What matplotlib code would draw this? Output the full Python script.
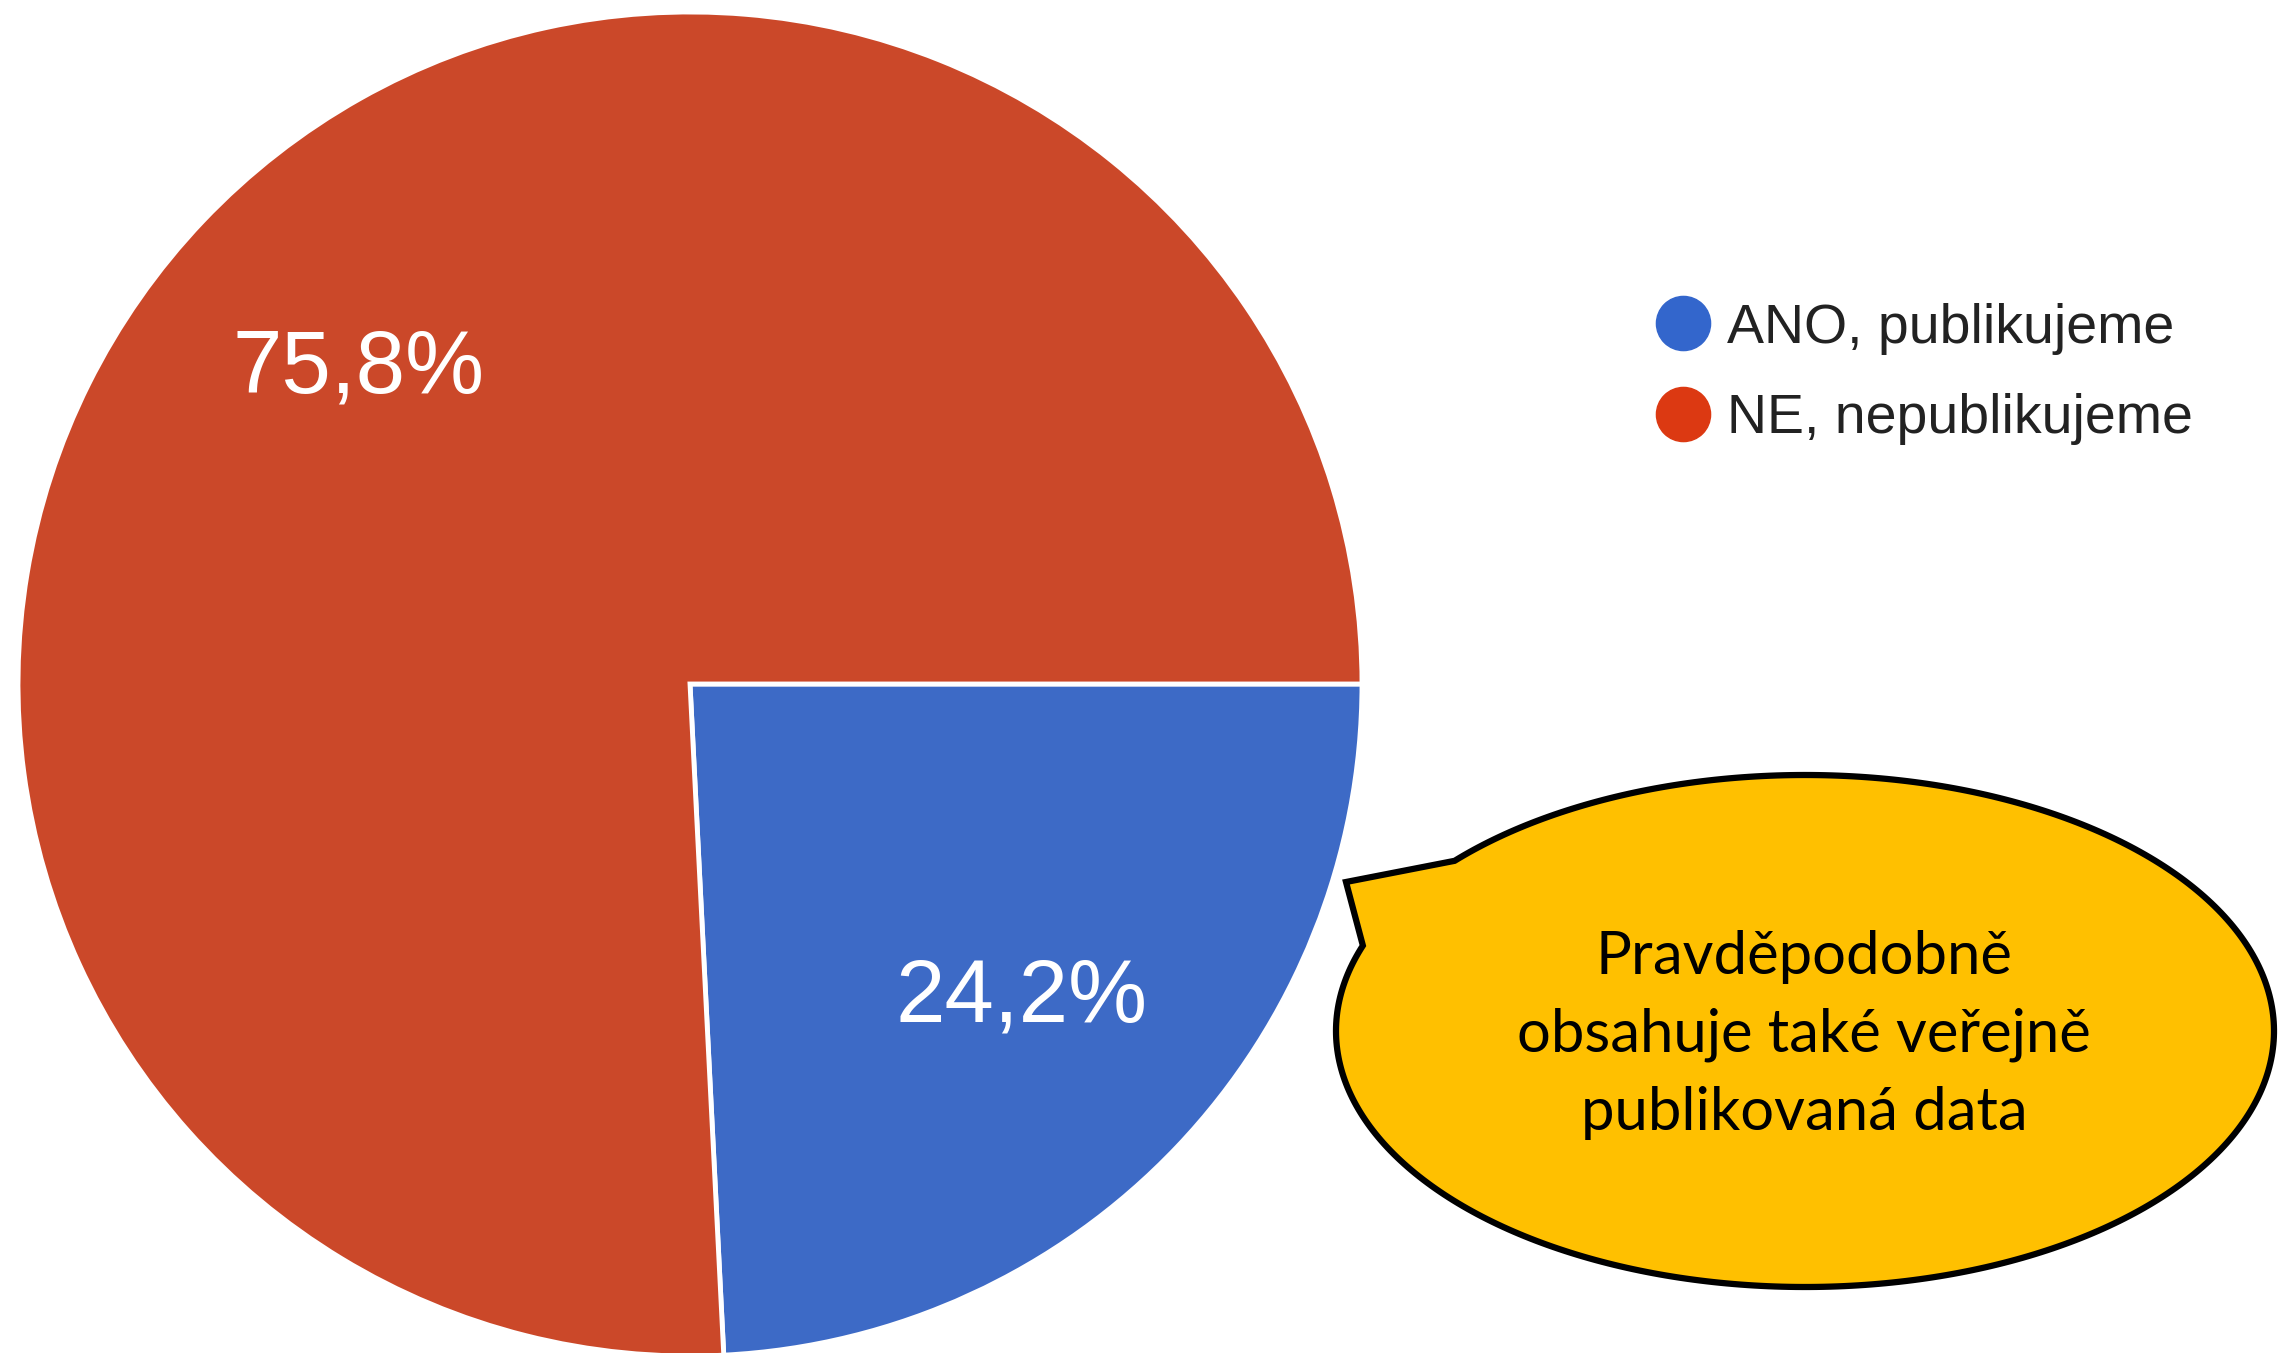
import numpy as np
import matplotlib
matplotlib.use("Agg")
import matplotlib.pyplot as plt
from matplotlib.lines import Line2D
from matplotlib.patches import Polygon

# data
labels = ["ANO, publikujeme", "NE, nepublikujeme"]
values = [24.2, 75.8]
slice_colors = ["#3D6AC6", "#CB4829"]
legend_colors = ["#3366CC", "#DC3912"]
note_lines = ["Pravděpodobně", "obsahuje také veřejně", "publikovaná data"]

W, H = 2281, 1353
fig = plt.figure(figsize=(W / 100, H / 100), dpi=100)

# pie, center (690, 684) px, radius 672 px
cx, cy, r = 690, 684, 672
ax = fig.add_axes([(cx - r) / W, (H - cy - r) / H, 2 * r / W, 2 * r / H])
wedges, texts, autotexts = ax.pie(
    values, colors=slice_colors, startangle=0, counterclock=False,
    autopct=lambda p: f"{p:.1f}%".replace(".", ","), pctdistance=0.68,
    wedgeprops=dict(edgecolor="white", linewidth=3.5),
    textprops=dict(color="white", fontsize=64, family=["Liberation Sans", "DejaVu Sans"]))
ax.set_xlim(-1, 1)
ax.set_ylim(-1, 1)

handles = [Line2D([], [], marker="o", linestyle="none", markersize=39,
                  markerfacecolor=c, markeredgecolor=c) for c in legend_colors]
fig.legend(handles, labels, loc="upper left", bbox_to_anchor=(1627 / W, 1 - 275 / H),
           frameon=False, handletextpad=0.3, labelspacing=0.69,
           borderpad=0, handlelength=1.0,
           prop=dict(family=["Liberation Sans", "DejaVu Sans"], size=40),
           labelcolor="#222222")

# callout bubble in pixel coordinates
ov = fig.add_axes([0, 0, 1, 1])
ov.set_xlim(0, W)
ov.set_ylim(H, 0)
ov.axis("off")
ov.patch.set_alpha(0)

ecx, ecy, ea, eb = 1805, 1031, 469, 256
base1 = (1455, 861)
base2 = (1365, 946)
tip = (1346, 882)
t1 = np.arctan2((base1[1] - ecy) / eb, (base1[0] - ecx) / ea)
t2 = np.arctan2((base2[1] - ecy) / eb, (base2[0] - ecx) / ea)
if t2 < t1:
    t2 += 2 * np.pi
tt = np.linspace(t1, t2, 400)
pts = np.column_stack([ecx + ea * np.cos(tt), ecy + eb * np.sin(tt)])
pts = np.vstack([pts, tip])
ov.add_patch(Polygon(pts, closed=True, facecolor="#FFC000", edgecolor="black",
                     linewidth=4.5, joinstyle="miter"))

for i, line in enumerate(note_lines):
    ov.text(1804, 957 + i * 78, line, ha="center", va="center", fontsize=43,
            family=["Lato", "DejaVu Sans"], color="black")

fig.savefig("out.png", dpi=100)
